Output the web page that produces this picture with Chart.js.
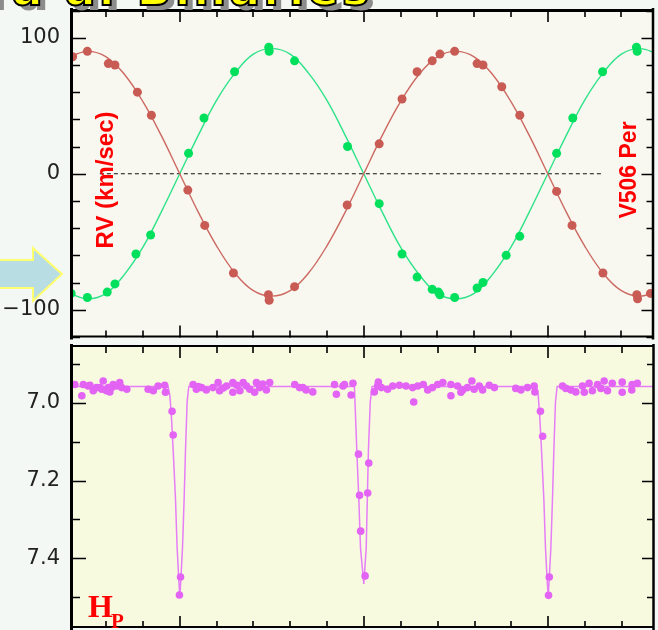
<!DOCTYPE html>
<html>
<head>
<meta charset="utf-8">
<script src="https://cdn.jsdelivr.net/npm/chart.js@4.4.1/dist/chart.umd.min.js"></script>
<style>
  html, body { margin: 0; padding: 0; background: #f3f8f4; }
  #stage { position: relative; width: 658px; height: 630px; overflow: hidden; background: #f3f8f4; }
  #topChart { position: absolute; left: 0; top: 0; }
  #botChart { position: absolute; left: 0; top: 342px; }
  #arrow { position: absolute; left: 0; top: 0; }
  #title {
    position: absolute; left: -14px; top: -34px; z-index: 3;
    font: bold 46px "DejaVu Sans", sans-serif; line-height: 46px; letter-spacing: 3px;
    color: #ffff00; -webkit-text-stroke: 2px #000; text-shadow: 6px 5px 0 #8c8c8c;
    white-space: nowrap;
  }
</style>
</head>
<body>
<div id="stage">
  <svg id="arrow" width="80" height="330">
    <polygon points="-6,260 33,260 33,248 62,274 33,301 33,288 -6,288" fill="#b8dde3" stroke="#ffff70" stroke-width="2"/>
  </svg>
  <canvas id="topChart" width="658" height="342"></canvas>
  <canvas id="botChart" width="658" height="290"></canvas>
  <div id="title">ra al Binaries</div>
</div>
<script>
// ---- data (orbital phase on x) ----
const phaseMin = -0.2927;
const phaseMax = 1.2873;

// radial velocities, km/s
const rvRedObs = [
  [-0.291, 86], [-0.251, 90], [-0.194, 81], [-0.176, 80], [-0.115, 60], [-0.077, 43],
  [0.022, -12], [0.068, -38], [0.146, -73], [0.241, -89], [0.243, -93], [0.312, -83],
  [0.455, -23], [0.542, 22], [0.604, 55], [0.645, 75], [0.686, 83], [0.707, 88],
  [0.747, 90], [0.808, 81], [0.824, 80], [0.875, 64], [0.924, 43], [1.024, -13],
  [1.066, -38], [1.150, -73], [1.242, -89], [1.244, -92], [1.279, -88]
];
const rvGreenObs = [
  [-0.295, -88], [-0.251, -91], [-0.197, -87], [-0.176, -81], [-0.119, -59], [-0.079, -45],
  [0.024, 15], [0.066, 41], [0.149, 75], [0.242, 93], [0.243, 90], [0.312, 83],
  [0.456, 20], [0.542, -22], [0.604, -59], [0.645, -76], [0.686, -85], [0.703, -87],
  [0.707, -89], [0.747, -91], [0.808, -84], [0.824, -80], [0.887, -60], [0.924, -46],
  [1.024, 15], [1.068, 41], [1.149, 75], [1.241, 93], [1.243, 90]
];
const rvCurvePhase = [-0.30, -0.25, -0.20, -0.15, -0.10, -0.05, 0.00, 0.05, 0.10, 0.15, 0.20,
  0.25, 0.30, 0.35, 0.40, 0.45, 0.50, 0.55, 0.60, 0.65, 0.70, 0.75, 0.80, 0.85, 0.90, 0.95,
  1.00, 1.05, 1.10, 1.15, 1.20, 1.25, 1.30];
const rvRedCurve = [86, 90, 86, 73, 53, 28, 0, -28, -53, -73, -86, -90, -86, -73, -53, -28,
  0, 28, 53, 73, 86, 90, 86, 73, 53, 28, 0, -28, -53, -73, -86, -90, -86];
const rvGreenCurve = [-88, -92, -88, -74, -54, -28, 0, 28, 54, 74, 88, 92, 88, 74, 54, 28,
  0, -28, -54, -74, -88, -92, -88, -74, -54, -28, 0, 28, 54, 74, 88, 92, 88];
const zeroLine = [[-0.217, 0], [1.146, 0]];

// Hipparcos magnitudes
const hpObs = [
  [-0.285, 6.953], [-0.266, 6.982], [-0.262, 6.953], [-0.249, 6.957], [-0.244, 6.955], [-0.235, 6.969],
  [-0.226, 6.961], [-0.217, 6.961], [-0.212, 6.965], [-0.208, 6.944], [-0.199, 6.969], [-0.194, 6.961],
  [-0.190, 6.972], [-0.185, 6.961], [-0.181, 6.953], [-0.172, 6.957], [-0.163, 6.948], [-0.158, 6.961],
  [-0.144, 6.965], [-0.086, 6.965], [-0.072, 6.969], [-0.059, 6.957], [-0.041, 6.955], [-0.039, 6.973],
  [-0.021, 7.022], [-0.018, 7.083], [-0.001, 7.494], [0.002, 7.448],
  [0.036, 6.953], [0.045, 6.965], [0.050, 6.958], [0.059, 6.961], [0.072, 6.967], [0.090, 6.961],
  [0.104, 6.948], [0.108, 6.969], [0.118, 6.962], [0.127, 6.957], [0.144, 6.948], [0.144, 6.973],
  [0.155, 6.955], [0.163, 6.969], [0.172, 6.948], [0.181, 6.957], [0.190, 6.965], [0.203, 6.973],
  [0.208, 6.948], [0.217, 6.961], [0.225, 6.952], [0.235, 6.967], [0.244, 6.948],
  [0.312, 6.953], [0.325, 6.961], [0.334, 6.961], [0.343, 6.967], [0.361, 6.972], [0.420, 6.953],
  [0.425, 6.978], [0.443, 6.957], [0.447, 6.953], [0.465, 6.980], [0.470, 6.950],
  [0.485, 7.132], [0.488, 7.238], [0.491, 7.330], [0.503, 7.445], [0.510, 7.232], [0.513, 7.155],
  [0.528, 6.972], [0.537, 6.957], [0.539, 6.947], [0.547, 6.961], [0.564, 6.965], [0.578, 6.957],
  [0.596, 6.955], [0.614, 6.957], [0.632, 6.961], [0.635, 6.998], [0.646, 6.957], [0.661, 6.953],
  [0.673, 6.967], [0.686, 6.961], [0.700, 6.953], [0.714, 6.948], [0.736, 6.953], [0.736, 6.982],
  [0.754, 6.957], [0.763, 6.973], [0.768, 6.967], [0.781, 6.961], [0.793, 6.944], [0.799, 6.965],
  [0.813, 6.957], [0.822, 6.967], [0.840, 6.955], [0.854, 6.961], [0.912, 6.963], [0.926, 6.967],
  [0.944, 6.961], [0.962, 6.957], [0.964, 6.972],
  [0.979, 7.022], [0.985, 7.086], [1.001, 7.495], [1.003, 7.448],
  [1.039, 6.957], [1.048, 6.963], [1.062, 6.967], [1.075, 6.972], [1.093, 6.957], [1.098, 6.973],
  [1.111, 6.950], [1.120, 6.969], [1.134, 6.953], [1.143, 6.963], [1.152, 6.944], [1.161, 6.969],
  [1.174, 6.950], [1.201, 6.947], [1.201, 6.973], [1.227, 6.967], [1.228, 6.953], [1.242, 6.950]
];
const hpCurve = [
  [-0.30, 6.958], [-0.032, 6.958], [-0.027, 6.981], [-0.0225, 7.041], [-0.018, 7.123], [-0.0117, 7.248],
  [-0.0073, 7.373], [-0.0027, 7.456], [0, 7.498], [0.0027, 7.456], [0.0073, 7.373], [0.0117, 7.248],
  [0.0154, 7.123], [0.0198, 6.998], [0.0244, 6.958],
  [0.474, 6.958], [0.4805, 7.123], [0.486, 7.248], [0.4905, 7.373], [0.4995, 7.466], [0.506, 7.373],
  [0.509, 7.248], [0.512, 7.123], [0.517, 6.998], [0.522, 6.958],
  [0.968, 6.958], [0.973, 6.981], [0.9775, 7.041], [0.982, 7.123], [0.9883, 7.248], [0.9927, 7.373],
  [0.9973, 7.456], [1.0, 7.498], [1.0027, 7.456], [1.0073, 7.373], [1.0117, 7.248], [1.0154, 7.123],
  [1.0198, 6.998], [1.0244, 6.958], [1.30, 6.958]
];

const rvLabelValues = [-100, 0, 100];
const hpLabelValues = [7.0, 7.2, 7.4];

// ---- helpers ----
const toXY = pairs => pairs.map(([x, y]) => ({ x, y }));
const zipXY = (xs, ys) => xs.map((x, i) => ({ x, y: ys[i] }));
const near = (a, b) => Math.abs(a - b) < 1e-6;

// panel background, inward tick marks, frame and panel labels
const panelFrame = {
  id: 'panelFrame',
  beforeDraw(chart, args, opts) {
    const { ctx, chartArea: a } = chart;
    ctx.save();
    ctx.fillStyle = opts.background;
    ctx.fillRect(a.left, a.top, a.right - a.left, a.bottom - a.top);
    ctx.restore();
  },
  afterDraw(chart, args, opts) {
    const { ctx, chartArea: a, scales: { x, y } } = chart;
    ctx.save();
    ctx.strokeStyle = '#000';
    ctx.lineWidth = 1.6;
    ctx.beginPath();
    x.ticks.forEach(t => {
      const px = Math.round(x.getPixelForValue(t.value));
      const major = near(Math.round(t.value * 2) / 2, t.value);
      const len = major ? 12 : 7;
      ctx.moveTo(px, a.top); ctx.lineTo(px, a.top + len);
      ctx.moveTo(px, a.bottom); ctx.lineTo(px, a.bottom - len);
    });
    y.ticks.forEach(t => {
      if (near(t.value, y.min) || near(t.value, y.max)) return;
      const py = Math.round(y.getPixelForValue(t.value)) + 0.5;
      const major = opts.labelled.some(v => near(v, t.value));
      ctx.moveTo(a.left, py); ctx.lineTo(a.left + (major ? 14 : 8), py);
      ctx.moveTo(a.right, py); ctx.lineTo(a.right - (major ? 12 : 7), py);
    });
    ctx.stroke();

    // frame
    ctx.lineWidth = 3;
    ctx.beginPath();
    ctx.moveTo(a.left - 0.5, a.top - 2); ctx.lineTo(a.left - 0.5, a.bottom + 2);
    ctx.stroke();
    ctx.lineWidth = 2.5;
    ctx.beginPath();
    ctx.moveTo(a.right - 0.5, a.top - 2); ctx.lineTo(a.right - 0.5, a.bottom + 2);
    ctx.stroke();
    ctx.lineWidth = opts.topWidth;
    ctx.beginPath();
    ctx.moveTo(a.left, a.top + opts.topOffset); ctx.lineTo(a.right, a.top + opts.topOffset);
    ctx.stroke();
    ctx.lineWidth = 2;
    ctx.beginPath();
    ctx.moveTo(a.left, a.bottom - 1); ctx.lineTo(a.right, a.bottom - 1);
    ctx.stroke();

    // text labels
    ctx.fillStyle = '#ff0000';
    opts.texts.forEach(t => {
      ctx.save();
      ctx.translate(t.x, t.y);
      if (t.rotate) ctx.rotate(-Math.PI / 2);
      ctx.font = t.font;
      ctx.textAlign = t.align || 'left';
      ctx.textBaseline = 'alphabetic';
      ctx.fillText(t.text, 0, 0);
      ctx.restore();
    });
    ctx.restore();
  }
};

function yAxis(min, max, step, labelled, fmt, reverse) {
  return {
    min, max, reverse,
    afterFit(scale) { scale.width = 72; scale.paddingTop = 0; scale.paddingBottom = 0; },
    grid: { display: false, drawTicks: false },
    border: { display: false },
    ticks: {
      stepSize: step,
      includeBounds: false,
      autoSkip: false,
      padding: 12,
      color: '#222',
      font: { family: '"DejaVu Sans", sans-serif', size: 21 },
      callback: v => labelled.some(l => near(l, v)) ? fmt(v) : ''
    }
  };
}

const xAxis = {
  type: 'linear', display: false, min: phaseMin, max: phaseMax,
  ticks: { stepSize: 0.1, includeBounds: false, autoSkip: false }
};

const baseOptions = {
  responsive: false,
  animation: false,
  events: [],
  plugins: { legend: { display: false }, tooltip: { enabled: false } }
};

// ---- radial velocity panel ----
new Chart(document.getElementById('topChart'), {
  type: 'scatter',
  data: {
    datasets: [
      { data: toXY(rvRedObs), pointRadius: 4.5, pointBackgroundColor: '#c95b55', pointBorderWidth: 0, showLine: false },
      { data: toXY(rvGreenObs), pointRadius: 4.5, pointBackgroundColor: '#00e05c', pointBorderWidth: 0, showLine: false },
      { data: zipXY(rvCurvePhase, rvRedCurve), showLine: true, tension: 0.4, borderColor: '#cc6a62', borderWidth: 1.4, pointRadius: 0 },
      { data: zipXY(rvCurvePhase, rvGreenCurve), showLine: true, tension: 0.4, borderColor: '#2ee388', borderWidth: 1.4, pointRadius: 0 },
      { data: toXY(zeroLine), showLine: true, borderColor: '#111', borderWidth: 1.2, borderDash: [4, 3], pointRadius: 0 }
    ]
  },
  options: {
    ...baseOptions,
    layout: { padding: { top: 10, right: 3, bottom: 0, left: 0 } },
    scales: {
      x: xAxis,
      y: yAxis(-120.4, 120.4, 20, rvLabelValues, v => v < 0 ? '\u2212' + Math.abs(v) : String(v), false)
    },
    plugins: {
      ...baseOptions.plugins,
      panelFrame: {
        background: '#f8f7f0',
        labelled: rvLabelValues,
        topWidth: 3, topOffset: 0.5,
        texts: [
          { text: 'RV (km/sec)', x: 113, y: 180, rotate: true, align: 'center', font: 'bold 24px "Liberation Sans", sans-serif' },
          { text: 'V506 Per', x: 636, y: 170, rotate: true, align: 'center', font: 'bold 23px "Liberation Sans", sans-serif' }
        ]
      }
    }
  },
  plugins: [panelFrame]
});

// ---- light curve panel ----
new Chart(document.getElementById('botChart'), {
  type: 'scatter',
  data: {
    datasets: [
      { data: toXY(hpObs), pointRadius: 3.8, pointBackgroundColor: '#e263f4', pointBorderWidth: 0, showLine: false },
      { data: toXY(hpCurve), showLine: true, tension: 0, borderColor: '#e67ef7', borderWidth: 1.5, pointRadius: 0 }
    ]
  },
  options: {
    ...baseOptions,
    layout: { padding: { top: 0, right: 3, bottom: 0, left: 0 } },
    scales: {
      x: xAxis,
      y: yAxis(6.854, 7.579, 0.1, hpLabelValues, v => v.toFixed(1), true)
    },
    plugins: {
      ...baseOptions.plugins,
      panelFrame: {
        background: '#f8fadf',
        labelled: hpLabelValues,
        topWidth: 2, topOffset: 0,
        texts: [
          { text: 'H', x: 88, y: 275, font: 'bold 32px "Liberation Serif", serif' },
          { text: 'P', x: 111, y: 286, font: 'bold 21px "Liberation Serif", serif' }
        ]
      }
    }
  },
  plugins: [panelFrame]
});
</script>
</body>
</html>
